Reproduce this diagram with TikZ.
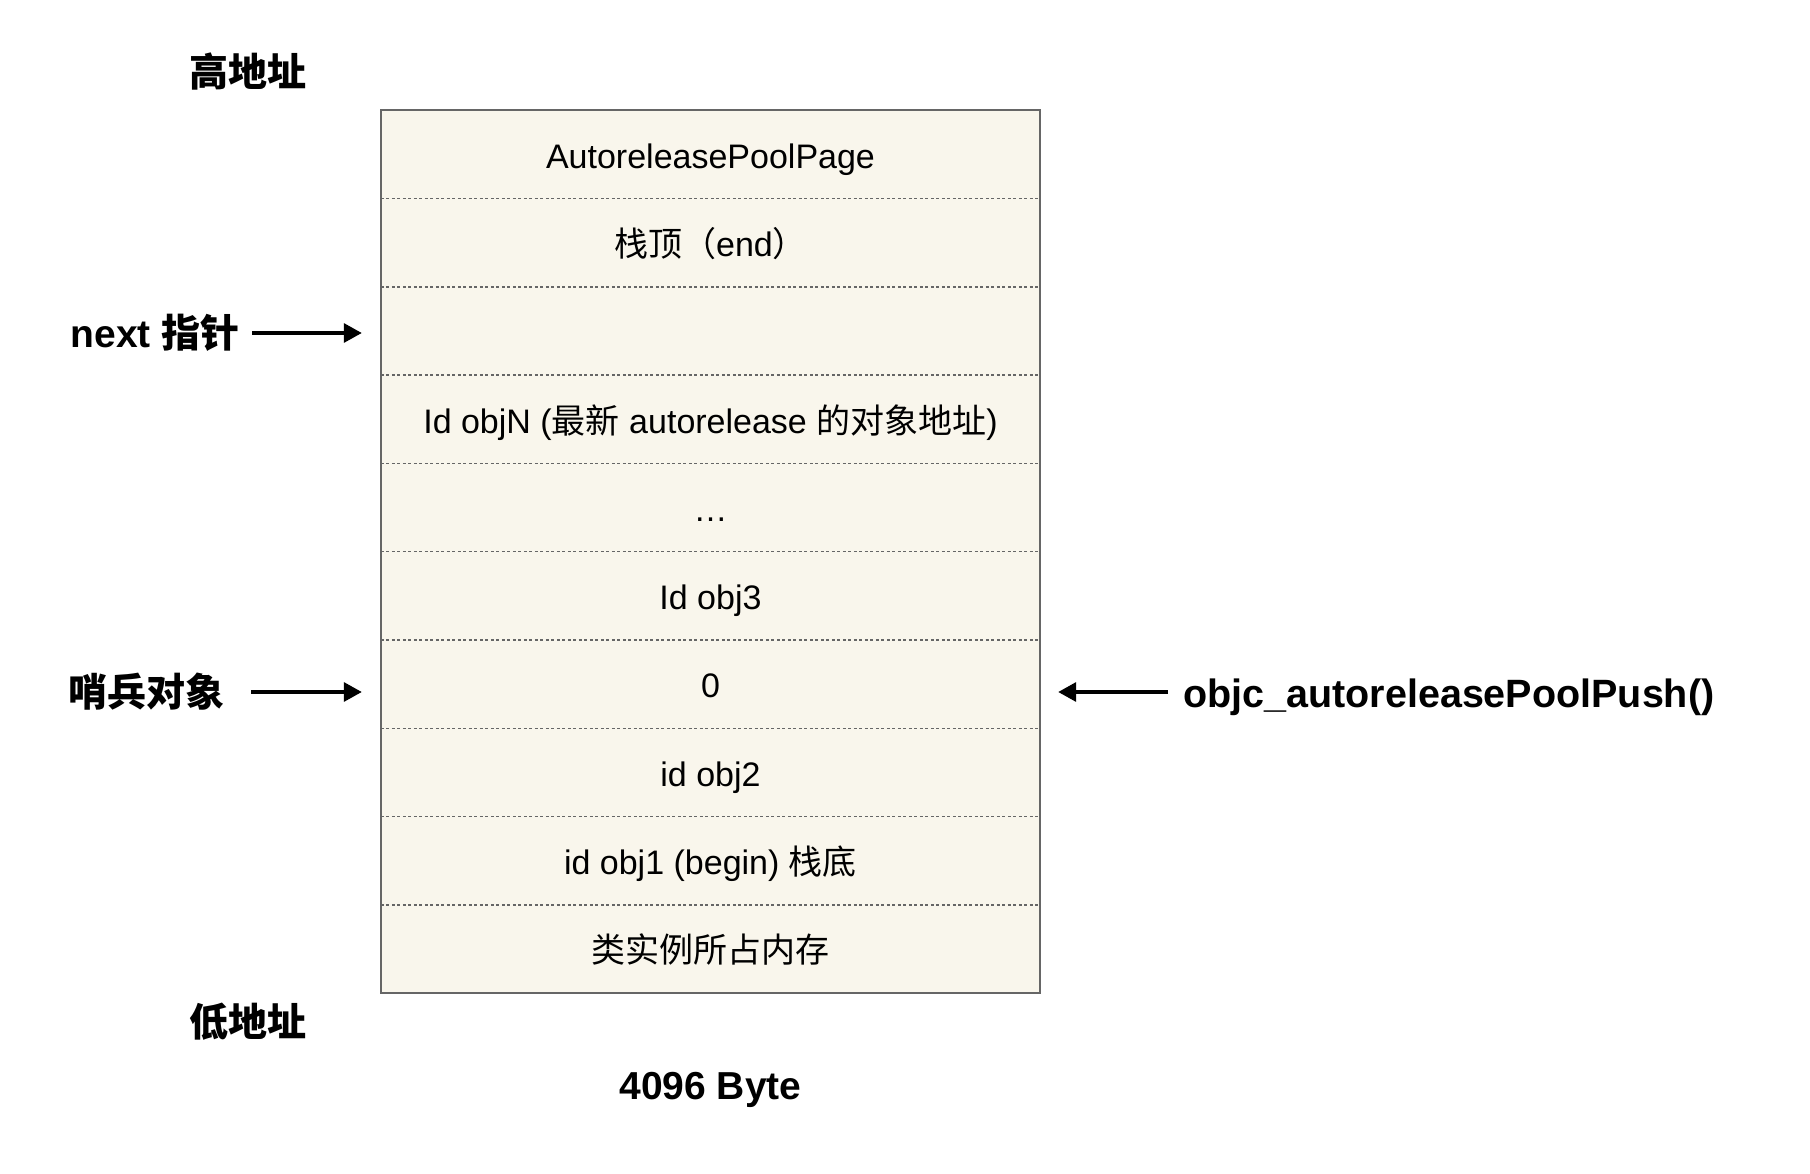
\documentclass[tikz,border=0pt]{standalone}
\usepackage{fontspec}
\setmainfont{Liberation Sans}
\newfontfamily\cjk{Noto Sans CJK SC}
\usetikzlibrary{arrows.meta}
\definecolor{fond_page}{HTML}{F9F6EC}
\definecolor{bord_gris}{HTML}{666666}

\begin{document}
\begin{tikzpicture}[x=1pt,y=-1pt,>={Triangle[length=18pt,width=19pt]},
    casepile/.style={fill=fond_page,minimum width=659pt,minimum height=88.3pt,inner sep=0pt,
      text height=34pt,text depth=6pt,font=\fontsize{34}{40}\selectfont},
    etiquette/.style={inner sep=0pt,font=\fontsize{39}{44}\selectfont\bfseries},
    fleche/.style={->,line width=3.3pt},
    separateur/.style={bord_gris,line width=1.5pt,dash pattern=on 3pt off 2.5pt}]

    % Cadre de l'image
    \useasboundingbox (0,0) rectangle (1810,1174);

    % Les cases de la page, du haut vers le bas
    \foreach \t [count=\i] in {{AutoreleasePoolPage},
        {{\cjk 栈顶（}end{\cjk ）}},
        {},
        {Id objN ({\cjk 最新} autorelease {\cjk 的对象地址})},
        {…},
        {Id obj3},
        {0},
        {id obj2},
        {id obj1 (begin) {\cjk 栈底}},
        {{\cjk 类实例所占内存}}}
      \node[casepile] (c\i) at (710.5,{110+(\i-0.5)*88.3}) {\t};

    % Traits pointillés entre les cases et bord de la page
    \foreach \i in {1,...,9}
      \draw[separateur] (c\i.south west) -- (c\i.south east);
    \draw[bord_gris,line width=2pt] (c1.north west) rectangle (c10.south east);

    % Etiquettes autour de la page
    \node[etiquette] (haut) at (248,72) {\cjk 高地址};
    \node[etiquette,anchor=east] (next) at (240,333) {next {\cjk 指针}};
    \node[etiquette,anchor=west] (sentinelle) at (68,692) {\cjk 哨兵对象};
    \node[etiquette,anchor=west,font=\fontsize{39.5}{44}\selectfont\bfseries] (push) at (1183,697) {objc\_autoreleasePoolPush()};
    \node[etiquette] (bas) at (248,1022) {\cjk 低地址};
    \node[etiquette,anchor=base] (taille) at (710.5,1099) {4096 Byte};

    % Les flèches vers la page
    \draw[fleche] ([xshift=12pt]next.east) -- ([xshift=-19pt]next.east -| c3.west);
    \draw[fleche] ([xshift=27pt]sentinelle.east) -- ([xshift=-19pt]sentinelle.east -| c7.west);
    \draw[fleche] ([xshift=-15pt]push.west |- sentinelle.east) -- ([xshift=18pt]sentinelle.east -| c7.east);
\end{tikzpicture}
\end{document}
